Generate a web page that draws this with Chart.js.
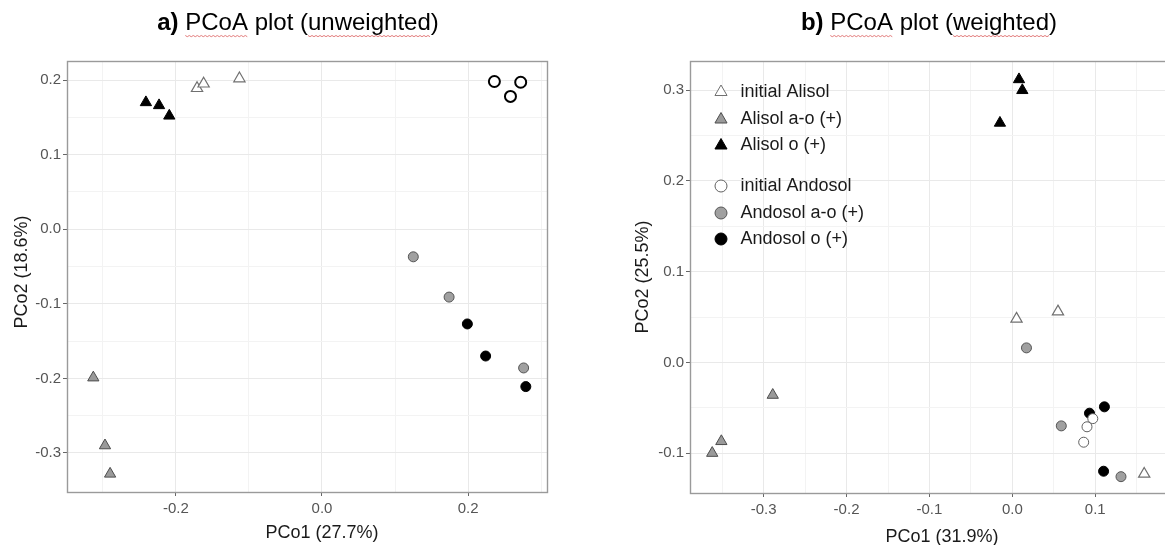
<!DOCTYPE html>
<html><head><meta charset="utf-8">
<script src="https://cdn.jsdelivr.net/npm/chart.js@4.4.1/dist/chart.umd.min.js"></script>
<style>
html,body{margin:0;padding:0;background:#fff;overflow:hidden;width:1165px;height:545px;position:relative;}
#ca{position:absolute;left:0;top:0;}
#cb{position:absolute;left:580px;top:0;}
</style></head><body>
<canvas id="ca" width="580" height="545"></canvas>
<canvas id="cb" width="620" height="545"></canvas>
<script>
// ---------- series names ----------
const seriesNames = ['initial Alisol', 'Alisol a-o (+)', 'Alisol o (+)', 'initial Andosol', 'Andosol a-o (+)', 'Andosol o (+)'];

// ---------- panel a: unweighted (PCo1, PCo2) ----------
const a_initialAlisol  = [[-0.171, 0.189], [-0.162, 0.195], [-0.113, 0.202]];
const a_alisolAO       = [[-0.313, -0.199], [-0.297, -0.290], [-0.290, -0.328]];
const a_alisolO        = [[-0.241, 0.170], [-0.223, 0.166], [-0.209, 0.152]];
const a_initialAndosol = [[0.236, 0.198], [0.258, 0.178], [0.272, 0.197]];
const a_andosolAO      = [[0.125, -0.037], [0.174, -0.091], [0.276, -0.186]];
const a_andosolO       = [[0.199, -0.127], [0.224, -0.170], [0.279, -0.211]];
const a_xMajor = [-0.2, 0.0, 0.2];
const a_xMinor = [-0.3, -0.1, 0.1, 0.3];
const a_yMajor = [-0.3, -0.2, -0.1, 0.0, 0.1, 0.2];
const a_yMinor = [-0.25, -0.15, -0.05, 0.05, 0.15];

// ---------- panel b: weighted (PCo1, PCo2) ----------
const b_initialAlisol  = [[0.005, 0.048], [0.055, 0.056], [0.159, -0.123]];
const b_alisolAO       = [[-0.289, -0.036], [-0.351, -0.087], [-0.362, -0.100]];
const b_alisolO        = [[0.008, 0.312], [0.012, 0.300], [-0.015, 0.264]];
const b_initialAndosol = [[0.097, -0.062], [0.090, -0.071], [0.086, -0.088]];
const b_andosolAO      = [[0.017, 0.016], [0.059, -0.070], [0.131, -0.126]];
const b_andosolO       = [[0.093, -0.056], [0.111, -0.049], [0.110, -0.120]];
const b_xMajor = [-0.3, -0.2, -0.1, 0.0, 0.1, 0.2];
const b_xMinor = [-0.35, -0.25, -0.15, -0.05, 0.05, 0.15];
const b_yMajor = [-0.1, 0.0, 0.1, 0.2, 0.3];
const b_yMinor = [-0.05, 0.05, 0.15, 0.25];

// ---------- text ----------
const titleA = ['a)', ' PCoA plot (unweighted)', ['PCoA', 'unweighted']];
const titleB = ['b)', ' PCoA plot (weighted)', ['PCoA', 'weighted']];
const xTitleA = 'PCo1 (27.7%)', yTitleA = 'PCo2 (18.6%)';
const xTitleB = 'PCo1 (31.9%)', yTitleB = 'PCo2 (25.5%)';

const FONT = '"Liberation Sans", Arial, sans-serif';
const toPts = arr => arr.map(p => ({x: p[0], y: p[1]}));
const key = v => Math.round(v * 1000);

function styles(panel) {
  const openCircleBorder = panel === 'a' ? {c: '#000000', w: 2, r: 5.5} : {c: '#606060', w: 1, r: 5};
  return [
    {pointStyle: 'triangle', bg: '#ffffff', bc: '#707070', bw: 1.2, r: 6.5, order: 5},
    {pointStyle: 'triangle', bg: '#9a9a9a', bc: '#4d4d4d', bw: 1, r: 6.5, order: 4},
    {pointStyle: 'triangle', bg: '#000000', bc: '#000000', bw: 1, r: 6.5, order: 3},
    {pointStyle: 'circle', bg: '#ffffff', bc: openCircleBorder.c, bw: openCircleBorder.w, r: openCircleBorder.r, order: 0},
    {pointStyle: 'circle', bg: '#a0a0a0', bc: '#555555', bw: 1, r: 5, order: 2},
    {pointStyle: 'circle', bg: '#000000', bc: '#000000', bw: 1, r: 5, order: 1}
  ];
}

function makeScale(min, max, major, minor, fixedSize, isX, labelPad) {
  const majorSet = new Set(major.map(key));
  const all = major.concat(minor).sort((p, q) => p - q);
  return {
    type: 'linear', position: isX ? 'bottom' : 'left', min: min, max: max,
    afterBuildTicks: s => { s.ticks = all.map(v => ({value: v})); },
    afterFit: s => { if (isX) s.height = fixedSize; else s.width = fixedSize; },
    ticks: {
      autoSkip: false, maxRotation: 0, minRotation: 0, padding: labelPad,
      color: '#555555', font: {family: FONT, size: 15},
      callback: v => majorSet.has(key(v)) ? v.toFixed(1) : ''
    },
    grid: {
      drawTicks: true, tickLength: 4, lineWidth: 1,
      color: c => (c.tick && majorSet.has(key(c.tick.value))) ? '#e9e9e9' : '#f3f3f3',
      tickColor: c => (c.tick && majorSet.has(key(c.tick.value))) ? '#666666' : 'rgba(0,0,0,0)'
    },
    border: {display: false}
  };
}

function drawTitle(ctx, cx, cy, t) {
  const [boldPart, normalPart, words] = t;
  ctx.save();
  ctx.textBaseline = 'middle'; ctx.textAlign = 'left'; ctx.fillStyle = '#000';
  const fb = 'bold 24px ' + FONT, fn = '24px ' + FONT;
  ctx.font = fb; const wb = ctx.measureText(boldPart).width;
  ctx.font = fn; const wn = ctx.measureText(normalPart).width;
  const x = cx - (wb + wn) / 2;
  ctx.font = fb; ctx.fillText(boldPart, x, cy);
  ctx.font = fn; ctx.fillText(normalPart, x + wb, cy);
  ctx.strokeStyle = '#e27b7b'; ctx.lineWidth = 1;
  words.forEach(w => {
    const i = normalPart.indexOf(w);
    const x0 = x + wb + ctx.measureText(normalPart.slice(0, i)).width;
    const x1 = x0 + ctx.measureText(w).width;
    ctx.beginPath();
    let k = 0;
    for (let px = x0; px <= x1; px += 2, k++) {
      const py = cy + 12.5 + (k % 2 ? 1.2 : 0);
      if (k === 0) ctx.moveTo(px, py); else ctx.lineTo(px, py);
    }
    ctx.stroke();
  });
  ctx.restore();
}

function panelPlugin(cfg) {
  return {
    id: 'panel' + cfg.id,
    afterDraw(chart) {
      const ctx = chart.ctx, a = chart.chartArea;
      ctx.save();
      // panel border
      ctx.strokeStyle = '#9a9a9a'; ctx.lineWidth = 1.4;
      ctx.strokeRect(a.left + 0.5, a.top + 0.5, a.right - a.left, a.bottom - a.top);
      // title
      drawTitle(ctx, cfg.titleX, 23, cfg.title);
      // axis titles
      ctx.fillStyle = '#1a1a1a'; ctx.font = '18px ' + FONT;
      ctx.textAlign = 'center'; ctx.textBaseline = 'middle';
      ctx.fillText(cfg.xTitle, cfg.xTitlePos[0], cfg.xTitlePos[1]);
      ctx.translate(cfg.yTitlePos[0], cfg.yTitlePos[1]);
      ctx.rotate(-Math.PI / 2);
      ctx.fillText(cfg.yTitle, 0, 0);
      ctx.restore();
      // legend
      if (cfg.legend) {
        const L = cfg.legend;
        chart.data.datasets.forEach((ds, i) => {
          const y = L.rows[i];
          ctx.save();
          ctx.fillStyle = ds.backgroundColor; ctx.strokeStyle = ds.borderColor;
          ctx.lineWidth = ds.pointStyle === 'circle' ? 1 : 1;
          const st = ds.pointStyle;
          Chart.helpers.drawPoint(ctx, {pointStyle: st, radius: st === 'triangle' ? 7 : 6, borderWidth: 1, rotation: 0}, L.markerX, y);
          ctx.fillStyle = '#1a1a1a'; ctx.font = '18px ' + FONT;
          ctx.textAlign = 'left'; ctx.textBaseline = 'middle';
          ctx.fillText(ds.label, L.textX, y);
          ctx.restore();
        });
      }
    }
  };
}

function buildDatasets(panel, series) {
  const st = styles(panel);
  return series.map((s, i) => ({
    label: seriesNames[i], data: toPts(s),
    pointStyle: st[i].pointStyle, backgroundColor: st[i].bg, borderColor: st[i].bc,
    borderWidth: st[i].bw, pointRadius: st[i].r, pointHoverRadius: st[i].r, order: st[i].order
  }));
}

function makeChart(canvasId, cfg) {
  return new Chart(document.getElementById(canvasId), {
    type: 'scatter',
    data: {datasets: buildDatasets(cfg.id, cfg.series)},
    options: {
      responsive: false, animation: false, events: [],
      layout: {padding: cfg.padding},
      plugins: {legend: {display: false}, tooltip: {enabled: false}, title: {display: false}},
      scales: {
        x: makeScale(cfg.xRange[0], cfg.xRange[1], cfg.xMajor, cfg.xMinor, cfg.xAxisH, true, 4),
        y: makeScale(cfg.yRange[0], cfg.yRange[1], cfg.yMajor, cfg.yMinor, cfg.yAxisW, false, cfg.yPad)
      }
    },
    plugins: [panelPlugin(cfg)]
  });
}

makeChart('ca', {
  id: 'a',
  series: [a_initialAlisol, a_alisolAO, a_alisolO, a_initialAndosol, a_andosolAO, a_andosolO],
  xRange: [-0.349, 0.308], yRange: [-0.3523, 0.2255],
  xMajor: a_xMajor, xMinor: a_xMinor, yMajor: a_yMajor, yMinor: a_yMinor,
  padding: {top: 61, right: 33, bottom: 0, left: 0}, xAxisH: 53, yAxisW: 67, yPad: 2,
  title: titleA, titleX: 298, xTitle: xTitleA, yTitle: yTitleA,
  xTitlePos: [322, 533], yTitlePos: [22, 272]
});

makeChart('cb', {
  id: 'b',
  series: [b_initialAlisol, b_alisolAO, b_alisolO, b_initialAndosol, b_andosolAO, b_andosolO],
  xRange: [-0.3888, 0.217], yRange: [-0.144, 0.3323],
  xMajor: b_xMajor, xMinor: b_xMinor, yMajor: b_yMajor, yMinor: b_yMinor,
  padding: {top: 61, right: 6, bottom: 0, left: 0}, xAxisH: 52, yAxisW: 110, yPad: 2,
  title: titleB, titleX: 349, xTitle: xTitleB, yTitle: yTitleB,
  xTitlePos: [362, 537], yTitlePos: [63, 277],
  legend: {markerX: 141, textX: 160.5, rows: [92, 119.5, 145.5, 186, 213, 239]}
});
</script>
</body></html>
